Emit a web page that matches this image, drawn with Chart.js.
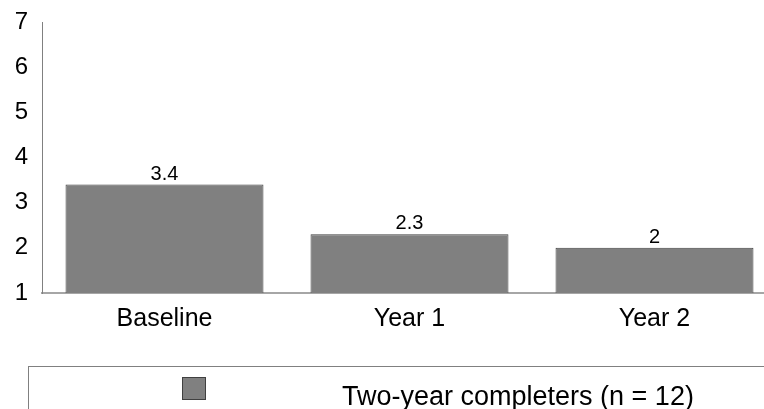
<!DOCTYPE html>
<html>
<head>
<meta charset="utf-8">
<script src="https://cdn.jsdelivr.net/npm/chart.js@4/dist/chart.umd.min.js"></script>
<style>
  html, body { margin: 0; padding: 0; background: #fff; overflow: hidden; }
  #wrap { width: 764px; height: 409px; overflow: hidden; position: relative; }
  canvas { display: block; }
</style>
</head>
<body>
<div id="wrap"><canvas id="c" width="777" height="409"></canvas></div>
<script>
// Time points and mean scores for the two-year completers
const categories = ['Baseline', 'Year 1', 'Year 2'];
const seriesLabel = 'Two-year completers (n = 12)';
const seriesValues = [3.4, 2.3, 2];
const yTicks = [1, 2, 3, 4, 5, 6, 7];

const FONT = "'Liberation Sans', Arial, Helvetica, sans-serif";

// Value labels above each bar
const valueLabels = {
  id: 'valueLabels',
  afterDatasetsDraw(chart) {
    const ctx = chart.ctx;
    const meta = chart.getDatasetMeta(0);
    const data = chart.data.datasets[0].data;
    ctx.save();
    ctx.font = '20px ' + FONT;
    ctx.fillStyle = '#000';
    ctx.textAlign = 'center';
    ctx.textBaseline = 'alphabetic';
    meta.data.forEach((bar, i) => {
      ctx.fillText(String(data[i]), bar.x, bar.y - 5);
    });
    ctx.restore();
  }
};

// Boxed legend along the bottom edge
const boxedLegend = {
  id: 'boxedLegend',
  afterDraw(chart) {
    const ctx = chart.ctx;
    const ds = chart.data.datasets[0];
    ctx.save();
    ctx.strokeStyle = '#808080';
    ctx.lineWidth = 1;
    ctx.strokeRect(28.5, 366.5, chart.width, 80);
    ctx.fillStyle = ds.backgroundColor;
    ctx.fillRect(182, 377, 24, 23);
    ctx.strokeStyle = ds.borderColor;
    ctx.strokeRect(182.5, 377.5, 23, 22);
    ctx.fillStyle = '#000';
    ctx.font = '27px ' + FONT;
    ctx.textAlign = 'left';
    ctx.textBaseline = 'alphabetic';
    ctx.fillText(ds.label, 342, 405);
    ctx.restore();
  }
};

new Chart(document.getElementById('c'), {
  type: 'bar',
  data: {
    labels: categories,
    datasets: [{
      label: seriesLabel,
      data: seriesValues,
      backgroundColor: '#808080',
      borderColor: '#404040',
      borderWidth: 1,
      borderSkipped: false,
      barPercentage: 0.808,
      categoryPercentage: 1
    }]
  },
  options: {
    responsive: false,
    animation: false,
    devicePixelRatio: 1,
    layout: { padding: { top: 22, left: 0, right: 0, bottom: 0 } },
    plugins: {
      legend: { display: false },
      tooltip: { enabled: false }
    },
    scales: {
      x: {
        grid: { display: false, drawTicks: false },
        border: { display: true, color: '#a6a6a6', width: 2 },
        ticks: { color: '#000', font: { family: FONT, size: 25 }, padding: 11, maxRotation: 0 },
        afterFit(scale) { scale.height = 116; scale.paddingLeft = 0; scale.paddingRight = 0; }
      },
      y: {
        min: 1,
        max: 7,
        grid: { display: false, drawTicks: false },
        border: { display: true, color: '#808080', width: 1 },
        afterBuildTicks(scale) { scale.ticks = yTicks.map(v => ({ value: v })); },
        ticks: { color: '#000', font: { family: FONT, size: 24 }, padding: 14 },
        afterFit(scale) { scale.width = 42; scale.paddingTop = 0; scale.paddingBottom = 0; }
      }
    }
  },
  plugins: [valueLabels, boxedLegend]
});
</script>
</body>
</html>
